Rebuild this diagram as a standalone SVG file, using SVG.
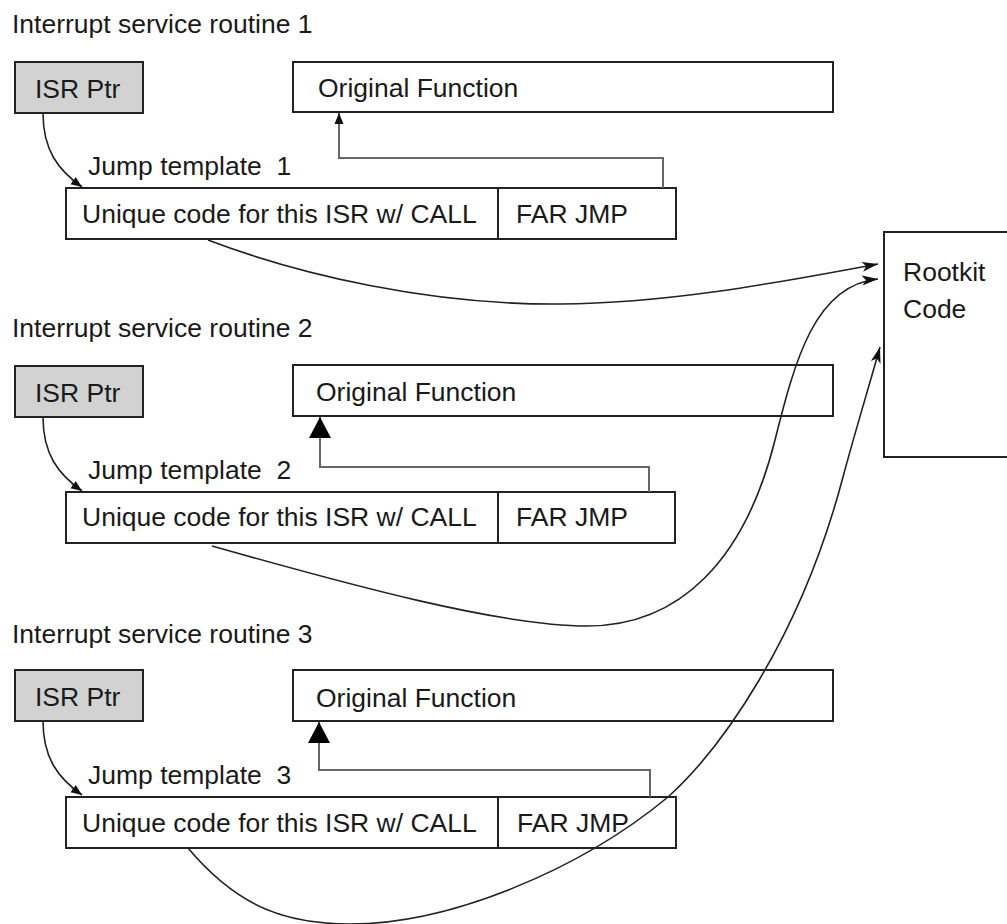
<svg xmlns="http://www.w3.org/2000/svg" width="1007" height="924" viewBox="0 0 1007 924">
<style>
text{font-family:"Liberation Sans",Arial,Helvetica,sans-serif;font-size:26.5px;fill:#1a1a1a}
.box{fill:#fff;stroke:#222;stroke-width:2}
.ptr{fill:#d2d2d2;stroke:#222;stroke-width:2}
.div{stroke:#222;stroke-width:2}
.c{fill:none;stroke:#222;stroke-width:1.6}
.g{fill:none;stroke:#666;stroke-width:2}
</style>
<defs>
<marker id="stealth" markerUnits="userSpaceOnUse" markerWidth="18" markerHeight="12" refX="16" refY="5" orient="auto" viewBox="0 0 18 10">
<path d="M0,0 L16,5 L0,10 L4,5 z" fill="#111"/>
</marker>
<marker id="small" markerUnits="userSpaceOnUse" markerWidth="12" markerHeight="10" refX="11" refY="4.5" orient="auto" viewBox="0 0 12 9">
<path d="M0,0 L11,4.5 L0,9 z" fill="#111"/>
</marker>
<marker id="big" markerUnits="userSpaceOnUse" markerWidth="22" markerHeight="22" refX="21" refY="11" orient="auto" viewBox="0 0 22 22">
<path d="M0,0 L21,11 L0,22 z" fill="#000"/>
</marker>
</defs>
<rect width="1007" height="924" fill="#fff"/>

<g id="isr1">
<text x="12" y="33">Interrupt service routine 1</text>
<g id="ptr1"><rect class="ptr" x="15" y="62" width="128" height="51"/><text x="35" y="98">ISR Ptr</text></g>
<g id="orig1"><rect class="box" x="293" y="62" width="540" height="50"/><text x="318" y="97">Original Function</text></g>
<g id="tmpl1"><text x="88" y="175" xml:space="preserve">Jump template  1</text>
<rect class="box" x="66" y="188" width="610" height="51"/><line class="div" x1="498" y1="188" x2="498" y2="239"/>
<text x="82" y="223">Unique code for this ISR w/ CALL</text><text x="516" y="223">FAR JMP</text></g>
</g>

<g id="isr2" transform="translate(0,304)">
<text x="12" y="33">Interrupt service routine 2</text>
<g id="ptr2"><rect class="ptr" x="15" y="62" width="128" height="51"/><text x="35" y="98">ISR Ptr</text></g>
<g id="orig2"><rect class="box" x="293" y="61" width="540" height="51"/><text x="316" y="97">Original Function</text></g>
<g id="tmpl2"><text x="88" y="175" xml:space="preserve">Jump template  2</text>
<rect class="box" x="66" y="188" width="609" height="51"/><line class="div" x1="498" y1="188" x2="498" y2="239"/>
<text x="82" y="222">Unique code for this ISR w/ CALL</text><text x="516" y="222">FAR JMP</text></g>
</g>

<g id="isr3" transform="translate(0,608)">
<text x="12" y="35">Interrupt service routine 3</text>
<g id="ptr3"><rect class="ptr" x="15" y="62" width="128" height="51"/><text x="35" y="98">ISR Ptr</text></g>
<g id="orig3"><rect class="box" x="293" y="62" width="540" height="51"/><text x="316" y="99">Original Function</text></g>
<g id="tmpl3"><text x="88" y="176" xml:space="preserve">Jump template  3</text>
<rect class="box" x="66" y="189" width="610" height="51"/><line class="div" x1="498" y1="189" x2="498" y2="240"/>
<text x="82" y="224">Unique code for this ISR w/ CALL</text><text x="517" y="224">FAR JMP</text></g>
</g>

<g id="rootkit">
<rect class="box" x="884" y="232" width="140" height="225"/>
<text x="903" y="281">Rootkit</text>
<text x="903" y="318">Code</text>
</g>

<g id="connectors">
<path class="c" d="M43,113 C43,150 58,170 82,187" marker-end="url(#small)"/>
<path class="c" d="M43,417 C43,454 58,474 82,491" marker-end="url(#small)"/>
<path class="c" d="M43,721 C43,758 58,778 82,795" marker-end="url(#small)"/>

<path class="g" d="M663,188 V158 H339 V113" marker-end="url(#small)"/>
<path class="g" d="M649,492 V467 H320 V417" marker-end="url(#big)"/>
<path class="g" d="M650,797 V770 H319 V722" marker-end="url(#big)"/>

<path class="c" d="M208,240 C300,275 430,305 560,304 C680,303 800,278 878,264" marker-end="url(#stealth)"/>
<path class="c" d="M212,546 C350,585 500,626 587,626 C680,626 745,560 775,440 C795,360 815,285 878,279" marker-end="url(#stealth)"/>
<path class="c" d="M188,848 C240,910 290,924 350,924 C450,924 580,870 668,797 C720,750 800,640 843,477 C855,432 868,390 880,347" marker-end="url(#stealth)"/>
</g>
</svg>
